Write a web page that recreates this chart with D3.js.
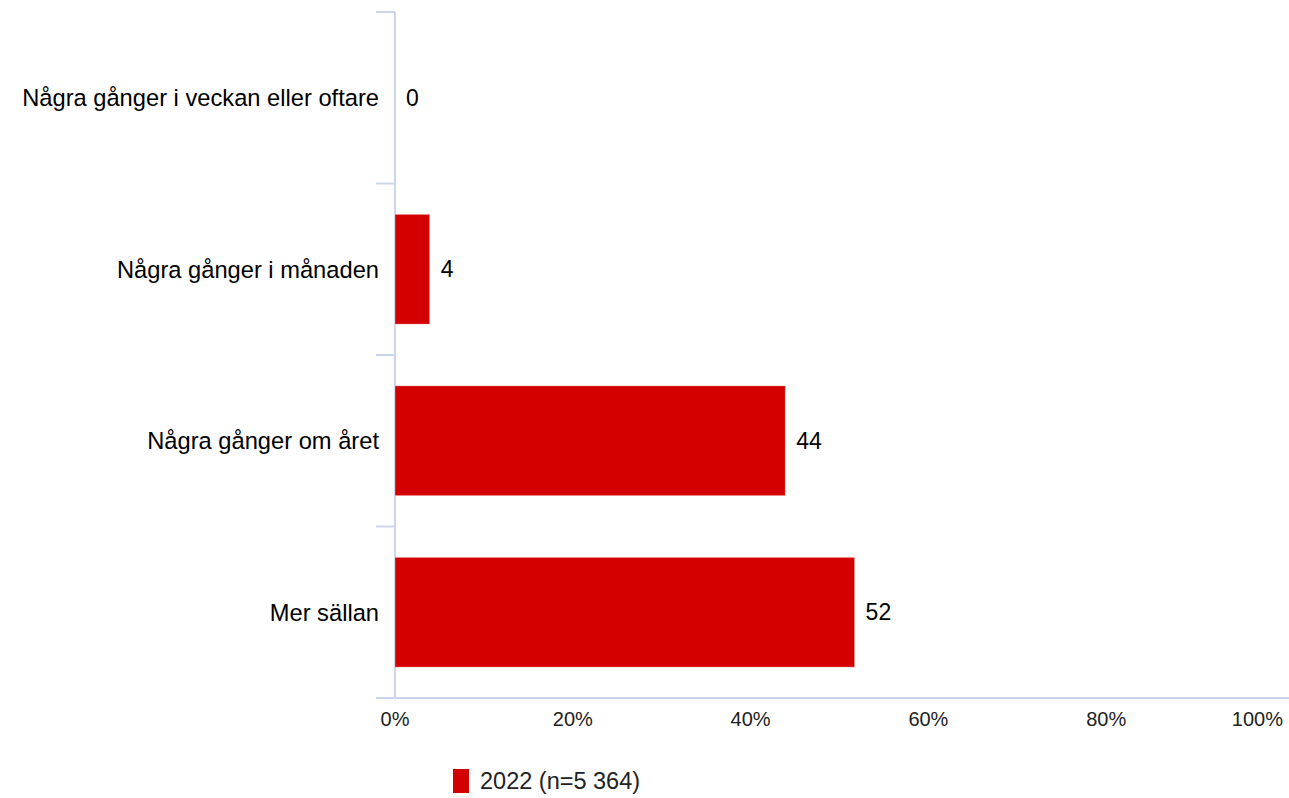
<!DOCTYPE html>
<html>
<head>
<meta charset="utf-8">
<script src="https://cdn.jsdelivr.net/npm/d3@7"></script>
<style>
  html, body { margin: 0; padding: 0; background: #fff; }
  svg { display: block; font-family: "Liberation Sans", Arial, sans-serif; }
</style>
</head>
<body>
<svg id="chart" width="1289" height="798"></svg>
<script>
const categories = [
  "Några gånger i veckan eller oftare",
  "Några gånger i månaden",
  "Några gånger om året",
  "Mer sällan"
];
const values = [0, 3.9, 43.9, 51.7];
const valueLabels = ["0", "4", "44", "52"];
const xTicks = [0, 20, 40, 60, 80, 100];
const seriesName = "2022 (n=5 364)";
const barColor = "#d40000";
const axisColor = "#ccd6eb";

(function () {
const svg = d3.select("#chart");
const plotLeft = 395, plotRight = 1284, plotTop = 12, plotBottom = 698;

const x = d3.scaleLinear().domain([0, 100]).range([plotLeft, plotRight]);
const y = d3.scaleBand().domain(categories).range([plotTop, plotBottom])
  .paddingInner(0.36).paddingOuter(0.18);

// category tick marks (band boundaries)
const step = y.step();
const boundaries = d3.range(categories.length + 1).map(i => plotTop + i * step);
svg.append("g").selectAll("line").data(boundaries).join("line")
  .attr("x1", 376).attr("x2", plotLeft)
  .attr("y1", d => d).attr("y2", d => d)
  .attr("stroke", axisColor).attr("stroke-width", 2);

// y axis line
svg.append("line")
  .attr("x1", plotLeft).attr("x2", plotLeft).attr("y1", plotTop).attr("y2", plotBottom)
  .attr("stroke", axisColor).attr("stroke-width", 2);

// x axis line
svg.append("line")
  .attr("x1", 376).attr("x2", 1289).attr("y1", plotBottom).attr("y2", plotBottom)
  .attr("stroke", axisColor).attr("stroke-width", 2);

// bars
svg.append("g").selectAll("rect").data(values).join("rect")
  .attr("x", x(0))
  .attr("y", (d, i) => y(categories[i]))
  .attr("width", d => x(d) - x(0))
  .attr("height", y.bandwidth())
  .attr("fill", barColor)
  .attr("stroke", "#ffffff").attr("stroke-opacity", 0.3).attr("stroke-width", 1);

// value labels
svg.append("g").selectAll("text").data(values).join("text")
  .attr("x", d => x(d) + 11)
  .attr("y", (d, i) => y(categories[i]) + y.bandwidth() / 2)
  .attr("dy", "0.35em")
  .attr("font-size", 23)
  .attr("fill", "#000")
  .text((d, i) => valueLabels[i]);

// category labels
svg.append("g").selectAll("text").data(categories).join("text")
  .attr("x", 379)
  .attr("y", d => y(d) + y.bandwidth() / 2)
  .attr("dy", "0.35em")
  .attr("text-anchor", "end")
  .attr("font-size", 23.7)
  .attr("fill", "#000")
  .text(d => d);

// x tick labels
svg.append("g").selectAll("text").data(xTicks).join("text")
  .attr("x", d => d === 100 ? 1283 : x(d))
  .attr("y", 726)
  .attr("text-anchor", d => d === 100 ? "end" : "middle")
  .attr("font-size", 20)
  .attr("fill", "#222")
  .text(d => d + "%");

// legend
const lg = svg.append("g");
lg.append("rect").attr("x", 453).attr("y", 769).attr("width", 16).attr("height", 24)
  .attr("fill", barColor);
lg.append("text").attr("x", 480).attr("y", 781).attr("dy", "0.35em")
  .attr("font-size", 23.5).attr("fill", "#222").text(seriesName);
})();
</script>
</body>
</html>
